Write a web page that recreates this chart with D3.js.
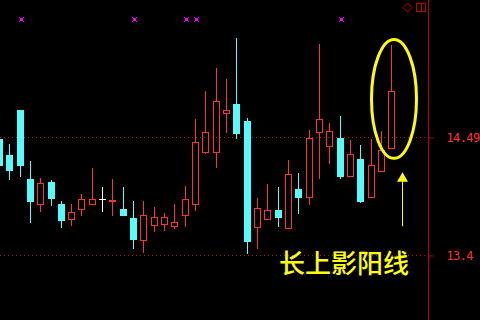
<!DOCTYPE html>
<html>
<head>
<meta charset="utf-8">
<script src="https://cdn.jsdelivr.net/npm/d3@7"></script>
<style>
  html, body { margin: 0; padding: 0; background: #000; }
  svg { display: block; }
</style>
</head>
<body>
<div class="chart"></div>
<script>
// daily candles, oldest first (first one is cut off at the left edge)
const opens  = [14.48, 14.33, 14.74, 14.11, 13.88, 14.08, 13.88, 13.74, 13.83, 13.88,
                13.92, 13.90, 13.83, 13.75, 13.54, 13.68, 13.69, 13.67, 13.77, 13.88,
                14.36, 14.36, 14.72, 14.80, 14.64, 13.66, 13.74, 13.82, 13.65, 14.01,
                13.94, 14.54, 14.41, 14.49, 14.13, 14.29, 13.94, 14.18, 14.39];
const highs  = [14.48, 14.43, 14.74, 14.27, 14.12, 14.10, 13.90, 13.88, 13.97, 14.21,
                14.03, 14.11, 14.03, 13.90, 13.90, 13.85, 13.79, 13.88, 14.04, 14.66,
                14.92, 15.13, 15.03, 15.41, 14.67, 13.93, 14.06, 14.03, 14.28, 14.16,
                14.56, 15.35, 14.62, 14.69, 14.47, 14.42, 14.48, 14.55, 15.34];
const lows   = [14.24, 14.11, 14.13, 13.71, 13.81, 13.87, 13.66, 13.68, 13.77, 13.88,
                13.81, 13.77, 13.77, 13.47, 13.43, 13.63, 13.64, 13.65, 13.67, 13.82,
                14.35, 14.22, 14.54, 14.49, 13.42, 13.47, 13.74, 13.67, 13.65, 13.79,
                13.88, 14.12, 14.25, 14.12, 14.13, 13.89, 13.94, 14.18, 14.39];
const closes = [14.24, 14.19, 14.24, 13.90, 14.07, 13.93, 13.73, 13.80, 13.92, 13.92,
                13.92, 13.91, 13.77, 13.55, 13.77, 13.76, 13.76, 13.71, 13.92, 14.45,
                14.54, 14.83, 14.74, 14.53, 13.53, 13.84, 13.82, 13.76, 14.15, 13.94,
                14.49, 14.66, 14.55, 14.13, 14.34, 13.90, 14.24, 14.37, 14.92];

// candles that carry a signal mark at the top
const markIdx = [2, 13, 18, 19, 33];
const tickValues = [13.4, 14.49];

// annotation: long upper shadow on the last candle
const labelText = '长上影阳线';
const arrowIdx = 39;
const arrowTop = 14.17;
const arrowBottom = 13.67;

const width = 480;
const height = 320;
const axisX = 428.5;
const slots = 40;
const step = 10.324;
const bodyW = 7;

const red = '#ff3232';
const cyan = '#54fcfc';
const darkRed = '#c00000';
const yellow = '#ffff00';

const candles = opens.map((o, i) => ({ i, o, h: highs[i], l: lows[i], c: closes[i] }));

const svg = d3.select('.chart').append('svg')
    .attr('width', width)
    .attr('height', height)
    .style('background', '#000');

// Scales
const x = d3.scaleBand().domain(d3.range(slots)).range([-5.98, -5.98 + slots * step]).padding(0);
const y = d3.scaleLinear().domain([13.4, 14.49]).range([255.5, 137.5]);
const cx = i => x(i) + x.bandwidth() / 2;
const left = i => Math.floor(cx(i) - bodyW / 2 + 0.72);
const row = v => Math.round(y(v));

// dotted price lines
svg.append('g').selectAll('line')
    .data(tickValues)
    .join('line')
    .attr('x1', 0)
    .attr('x2', axisX)
    .attr('y1', d => y(d))
    .attr('y2', d => y(d))
    .attr('stroke', '#b01818')
    .attr('stroke-dasharray', '1,3');

// Candles
const gCandle = svg.append('g');

candles.forEach(d => {
    const lx = left(d.i);
    const wx = lx + 3.5;
    const top = row(Math.max(d.o, d.c));
    const bot = row(Math.min(d.o, d.c));
    const hi = row(d.h);
    const lo = row(d.l);

    if (d.c === d.o) {
        gCandle.append('line')
            .attr('x1', wx).attr('x2', wx)
            .attr('y1', hi).attr('y2', lo + 1)
            .attr('stroke', '#fff');
        gCandle.append('line')
            .attr('x1', lx).attr('x2', lx + bodyW)
            .attr('y1', top + 0.5).attr('y2', top + 0.5)
            .attr('stroke', '#fff');
    } else if (d.c > d.o) {
        if (hi < top) {
            gCandle.append('line')
                .attr('x1', wx).attr('x2', wx)
                .attr('y1', hi).attr('y2', top)
                .attr('stroke', red);
        }
        if (lo > bot) {
            gCandle.append('line')
                .attr('x1', wx).attr('x2', wx)
                .attr('y1', bot + 1).attr('y2', lo + 1)
                .attr('stroke', red);
        }
        gCandle.append('rect')
            .attr('x', lx + 0.5)
            .attr('y', top + 0.5)
            .attr('width', bodyW - 1)
            .attr('height', bot - top)
            .attr('fill', 'none')
            .attr('stroke', red);
    } else {
        gCandle.append('line')
            .attr('x1', wx).attr('x2', wx)
            .attr('y1', hi).attr('y2', lo + 1)
            .attr('stroke', cyan);
        gCandle.append('rect')
            .attr('x', lx)
            .attr('y', top)
            .attr('width', bodyW)
            .attr('height', bot - top + 1)
            .attr('fill', cyan);
    }
});

// signal marks
const gMark = svg.append('g')
    .selectAll('g')
    .data(markIdx)
    .join('g')
    .attr('transform', d => `translate(${left(d) + 4.5}, 19.5)`);
gMark.append('path')
    .attr('d', 'M-2.5,-2.5L2.5,2.5M2.5,-2.5L-2.5,2.5')
    .attr('stroke', '#ff00ff');
gMark.append('rect')
    .attr('x', -1.5).attr('y', -1.5)
    .attr('width', 3).attr('height', 3)
    .attr('fill', '#ff00ff');

// Axis
const yAxis = d3.axisRight(y)
    .tickValues(tickValues)
    .tickSize(5)
    .tickPadding(13)
    .tickFormat(d => String(d));

const gAxis = svg.append('g')
    .attr('transform', `translate(${axisX}, 0)`)
    .call(yAxis);
gAxis.select('.domain').remove();
gAxis.selectAll('.tick line').attr('stroke', darkRed);
gAxis.selectAll('.tick text')
    .attr('fill', red)
    .style('font-family', '"DejaVu Sans Mono", monospace')
    .style('font-size', '12px')
    .style('letter-spacing', '-0.6px');

svg.append('line')
    .attr('x1', axisX).attr('x2', axisX)
    .attr('y1', 0).attr('y2', height)
    .attr('stroke', darkRed);

// top-right icons
svg.append('path')
    .attr('d', 'M407.5,3L412,7.5L407.5,12L403,7.5Z')
    .attr('fill', 'none')
    .attr('stroke', darkRed);
svg.append('rect')
    .attr('x', 416.5).attr('y', 3.5)
    .attr('width', 9).attr('height', 8)
    .attr('fill', 'none')
    .attr('stroke', darkRed);
svg.append('line')
    .attr('x1', 421.5).attr('x2', 421.5)
    .attr('y1', 3.5).attr('y2', 11.5)
    .attr('stroke', darkRed);

// Annotation
const last = candles[candles.length - 1];
svg.append('ellipse')
    .attr('cx', left(last.i) + 6)
    .attr('cy', (y(last.h) + y(last.l)) / 2 + 2)
    .attr('rx', 22.5)
    .attr('ry', (y(last.l) - y(last.h)) / 2 + 8)
    .attr('fill', 'none')
    .attr('stroke', yellow)
    .attr('stroke-width', 3);

const ax = left(arrowIdx) + 3.5;
const at = y(arrowTop);
svg.append('line')
    .attr('x1', ax).attr('x2', ax)
    .attr('y1', at + 9).attr('y2', y(arrowBottom))
    .attr('stroke', yellow);
svg.append('path')
    .attr('d', `M${ax},${at}L${ax - 5.5},${at + 9.5}L${ax + 5.5},${at + 9.5}Z`)
    .attr('fill', yellow);

svg.append('text')
    .attr('x', 279)
    .attr('y', 273)
    .attr('fill', yellow)
    .style('font-family', '"Noto Sans CJK SC", sans-serif')
    .style('font-size', '26px')
    .style('font-weight', 500)
    .text(labelText);
</script>
</body>
</html>
